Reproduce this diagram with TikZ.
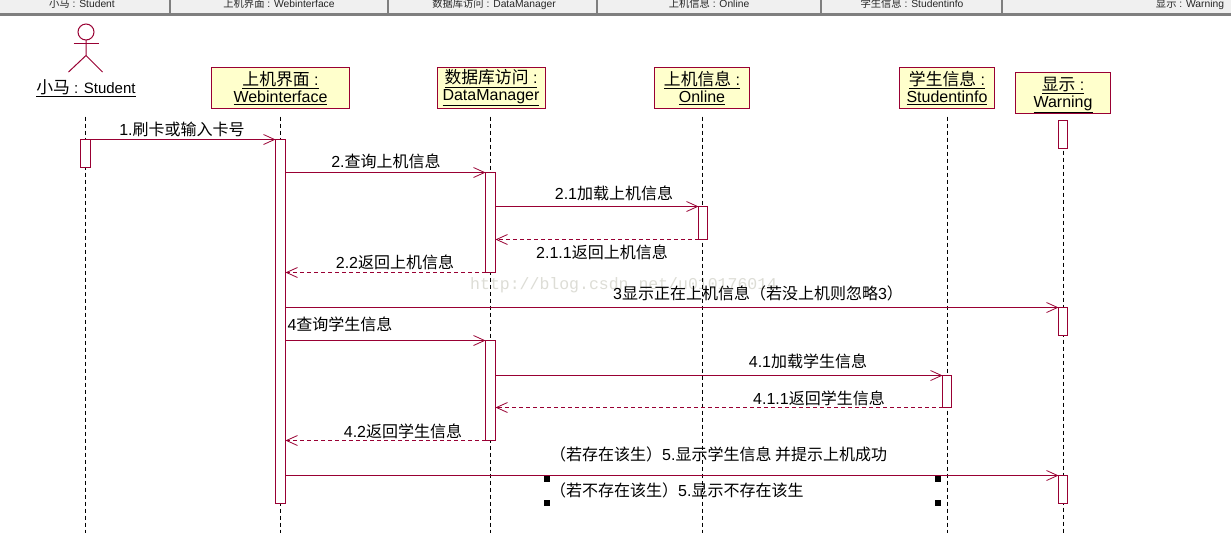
\documentclass[tikz,border=0pt]{standalone}
\usepackage{fontspec}
\setmainfont{Liberation Sans}
\newfontfamily\cjk{Noto Sans CJK SC}
\newfontfamily\wmfont{Liberation Mono}
\usetikzlibrary{arrows.meta}
\definecolor{umlline}{HTML}{990033}
\definecolor{umlfill}{HTML}{FFFFCC}
\definecolor{barfill}{HTML}{F0F0F0}
\definecolor{barline}{HTML}{7F7F7F}
\definecolor{wmark}{HTML}{DDDDD6}
\newcommand{\cj}[1]{{\cjk #1}}
\newcommand{\cjb}[1]{{\cjk\fontsize{16.8}{20}\selectfont #1}}
\newcommand{\boxlab}[3][14pt]{\rule{0pt}{#1}\underline{\cjb{#2} :}\\[-3pt]\underline{#3}}
\tikzset{
  x=1pt,y=-1pt,
  objbox/.style={draw=umlline,fill=umlfill,line width=1pt,inner sep=0pt,align=center,font=\fontsize{16}{20}\selectfont,text=black},
  actbar/.style={draw=umlline,fill=white,line width=1.2pt,inner sep=0pt,outer sep=0pt,minimum width=10pt},
  lifeline/.style={draw=black,line width=0.9pt,dash pattern=on 4pt off 3pt},
  msg/.style={draw=umlline,line width=0.95pt,-{Straight Barb[length=11pt,width=10pt,line width=0.8pt]}},
  ret/.style={msg,dash pattern=on 4pt off 3pt},
  lbl/.style={inner sep=0pt,font=\fontsize{16}{18}\selectfont,text=black},
  hdr/.style={inner sep=0pt,anchor=base,font=\fontsize{10.3}{12}\selectfont,text=black!85},
  handle/.style={fill=black,inner sep=0pt,minimum size=6pt},
  hdiv/.style={draw=barline,line width=1.2pt},
  actorline/.style={draw=umlline,line width=1pt},
}
\begin{document}
\begin{tikzpicture}
\useasboundingbox (0,0) rectangle (1231,550);
\clip (0,0) rectangle (1231,550);
\fill[white] (0,0) rectangle (1231,550);
% header bar
\fill[barfill] (0,0) rectangle (1231,13);
\fill[barline] (0,13) rectangle (1231,16);
\foreach \hx in {170,388,597,821,1002}{\draw[hdiv] (\hx,0) -- (\hx,14);}
\node[hdr] (h1) at (82,7.5) {\cj{小马} : Student};
\node[hdr] (h2) at (279,7.5) {\cj{上机界面} : Webinterface};
\node[hdr] (h3) at (494,7.5) {\cj{数据库访问} : DataManager};
\node[hdr] (h4) at (709,7.5) {\cj{上机信息} : Online};
\node[hdr] (h5) at (912,7.5) {\cj{学生信息} : Studentinfo};
\node[hdr] (h6) at (1190,7.5) {\cj{显示} : Warning};
% watermark
\node[inner sep=0pt,font=\wmfont\fontsize{16.5}{18}\selectfont,text=wmark,anchor=west] (wm) at (470,285) {http://blog.csdn.net/u010176014};
\begin{scope}[shift={(0.5,0.5)}]
% lifeline ends
\coordinate (stuT) at (85,116); \coordinate (stuB) at (85,532);
\coordinate (webT) at (280,116); \coordinate (webB) at (280,532);
\coordinate (dmT) at (490,116); \coordinate (dmB) at (490,532);
\coordinate (onT) at (702,116); \coordinate (onB) at (702,532);
\coordinate (siT) at (947,116); \coordinate (siB) at (947,532);
\coordinate (waT) at (1063,122); \coordinate (waB) at (1063,532);
\foreach \a/\b in {stuT/stuB,webT/webB,dmT/dmB,onT/onB,siT/siB,waT/waB}{\draw[lifeline] (\a) -- (\b);}
% actor
\draw[actorline] (85.5,31.5) circle (8);
\draw[actorline] (73,43) -- (98,43);
\draw[actorline] (85.5,39.5) -- (85.5,55) -- (68,71.5);
\draw[actorline] (85.5,55) -- (102,71.5);
\node[inner sep=0pt,font=\fontsize{15}{20}\selectfont] (stu) at (85.5,88) {\underline{\cjb{小马} : Student}};
% object boxes
\node[objbox,minimum width=138pt,minimum height=41pt] (web) at (280,87.5) {\boxlab{上机界面}{Webinterface}};
\node[objbox,minimum width=108pt,minimum height=41pt] (dm) at (490.5,87.5) {\boxlab{数据库访问}{DataManager}};
\node[objbox,minimum width=95pt,minimum height=41pt] (on) at (701.5,87.5) {\boxlab{上机信息}{Online}};
\node[objbox,minimum width=95pt,minimum height=41pt] (si) at (946.5,87.5) {\boxlab{学生信息}{Studentinfo}};
\node[objbox,minimum width=95pt,minimum height=41pt] (wa) at (1062.5,92.5) {\boxlab[17pt]{显示}{Warning}};
% activation bars
\node[actbar,minimum height=28pt] (stuA) at (85,153) {};
\node[actbar,minimum height=364pt] (webA) at (280,321) {};
\node[actbar,minimum height=100pt] (dmA) at (490,222) {};
\node[actbar,minimum height=100pt] (dmC) at (490,390) {};
\node[actbar,minimum height=33pt,minimum width=9pt] (onA) at (702.5,222.5) {};
\node[actbar,minimum height=32pt,minimum width=9pt] (siA) at (946.5,391) {};
\node[actbar,minimum height=28pt,minimum width=9pt] (waA) at (1062.5,134) {};
\node[actbar,minimum height=28pt,minimum width=9pt] (waB1) at (1062.5,321) {};
\node[actbar,minimum height=28pt,minimum width=9pt] (waC) at (1062.5,489) {};
% messages
\draw[msg] (stuA.north east) -- (webA.north west);
\draw[msg] (webA.east |- dmA.north) -- (dmA.north west);
\draw[msg] (dmA.east |- onA.north) -- (onA.north west);
\draw[ret] (onA.south west) -- (dmA.east |- onA.south);
\draw[ret] (dmA.south west) -- (webA.east |- dmA.south);
\draw[msg] (webA.east |- waB1.north) -- (waB1.north west);
\draw[msg] (webA.east |- dmC.north) -- (dmC.north west);
\draw[msg] (dmC.east |- siA.north) -- (siA.north west);
\draw[ret] (siA.south west) -- (dmC.east |- siA.south);
\draw[ret] (dmC.south west) -- (webA.east |- dmC.south);
\draw[msg] (webA.east |- waC.north) -- (waC.north west);
\end{scope}
% message labels
\node[lbl] (l1) at (182,129.5) {1.\cj{刷卡或输入卡号}};
\node[lbl] (l2) at (386,161.5) {2.\cj{查询上机信息}};
\node[lbl] (l21) at (614,193.5) {2.1\cj{加载上机信息}};
\node[lbl] (l211) at (602,252.5) {2.1.1\cj{返回上机信息}};
\node[lbl] (l22) at (395,262.5) {2.2\cj{返回上机信息}};
\node[lbl] (l3) at (758,293.5) {3\cj{显示正在上机信息（若没上机则忽略}3\cj{）}};
\node[lbl] (l4) at (340,324.5) {4\cj{查询学生信息}};
\node[lbl] (l41) at (808,361.5) {4.1\cj{加载学生信息}};
\node[lbl] (l411) at (819,398.5) {4.1.1\cj{返回学生信息}};
\node[lbl] (l42) at (403,431.5) {4.2\cj{返回学生信息}};
\node[lbl,anchor=west] (l5) at (550,454.5) {\cj{（若存在该生）}5.\cj{显示学生信息 并提示上机成功}};
\node[lbl,anchor=west] (l5b) at (550,490.5) {\cj{（若不存在该生）}5.\cj{显示不存在该生}};
% selection handles
\node[handle] (s1) at (547,479) {};
\node[handle] (s2) at (938,479) {};
\node[handle] (s3) at (547,503) {};
\node[handle] (s4) at (938,503) {};
\end{tikzpicture}
\end{document}
